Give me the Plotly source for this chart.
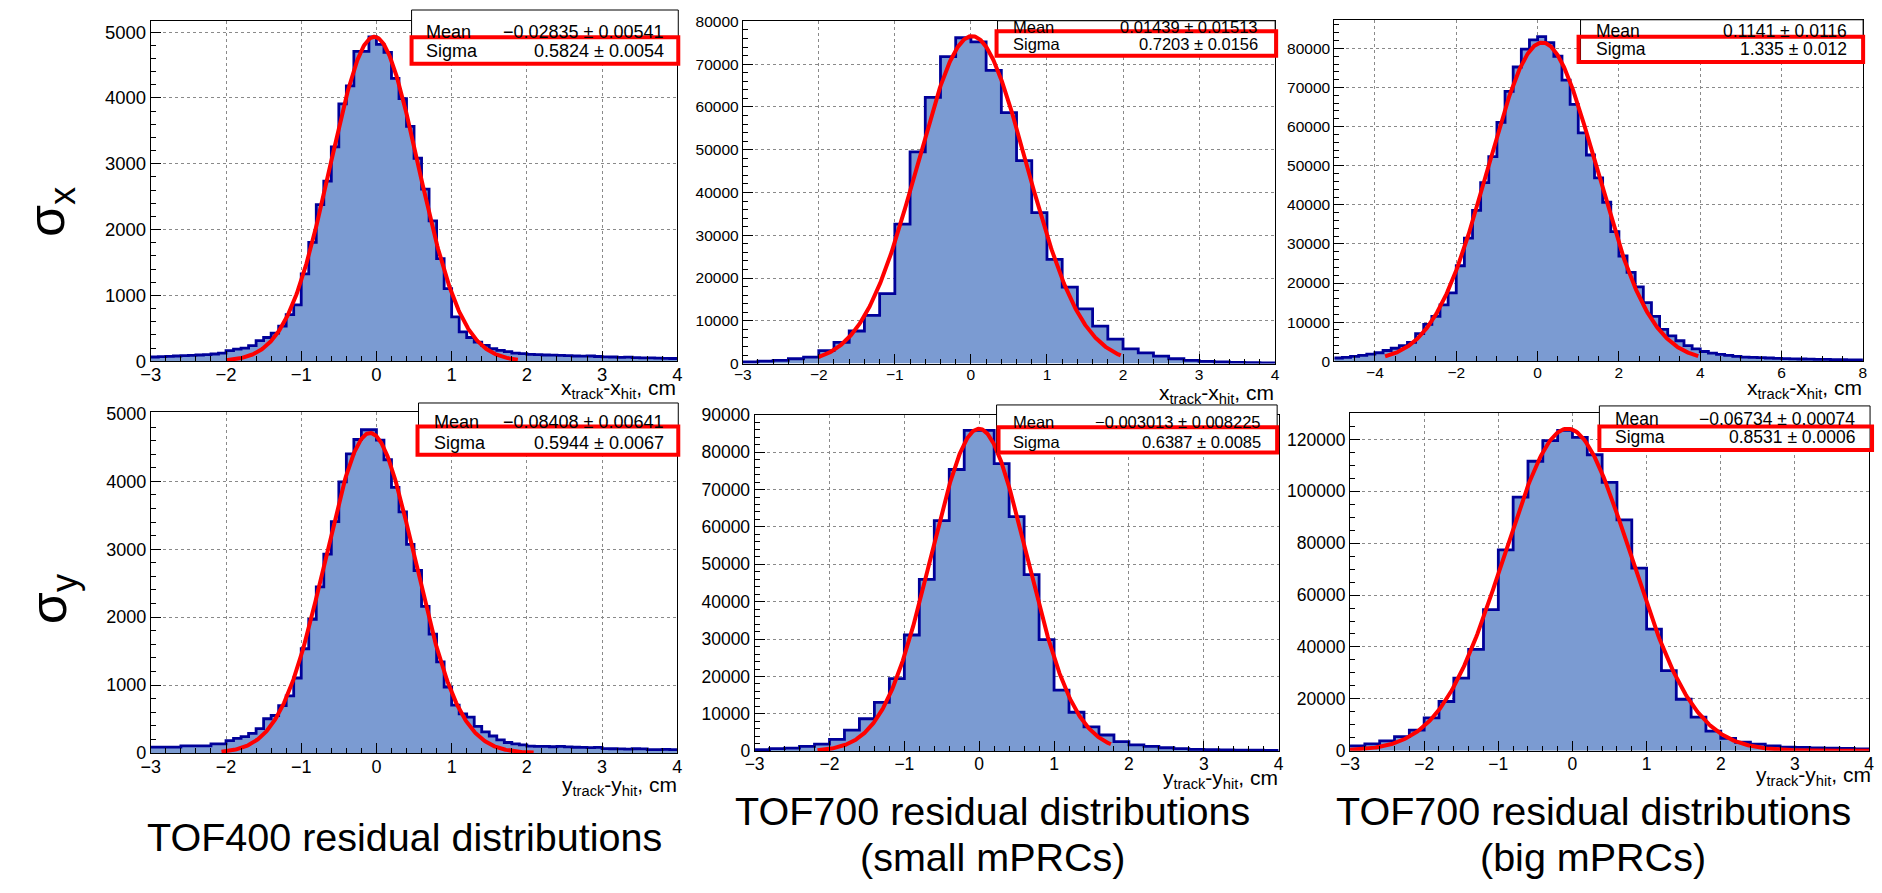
import numpy as np
import plotly.graph_objects as go

W, H = 1882, 893
FONT = "Liberation Sans, Arial, Helvetica, sans-serif"

# ---------------- data ----------------
# TOF400 sigma_x  (bins of 0.1 cm from -3 to 4)
tl_lo, tl_bw = -3.0, 0.1
tl_counts = [65, 70, 75, 80, 85, 90, 95, 100, 110, 125,
             160, 185, 198, 238, 312, 361, 426, 535, 708, 856,
             1327, 1807, 2381, 2737, 3257, 3911, 4183, 4707, 4707, 4930,
             4816, 4693, 4297, 3990, 3569, 3084, 2614, 2133, 1559, 1104,
             673, 445, 361, 290, 240, 190, 165, 145, 125, 115,
             105, 100, 95, 92, 88, 85, 80, 78, 80, 72,
             68, 65, 60, 62, 55, 52, 50, 48, 45, 42]
tl_fit = dict(amp=4930, mean=-0.02835, sigma=0.5824, lo=-2.0, hi=1.88)
tl_stats = ["\u22120.02835 \u00b1 0.00541", "0.5824 \u00b1 0.0054"]

# TOF700 small sigma_x (bins of 0.2 cm)
tm_lo, tm_bw = -3.0, 0.2
tm_counts = [380, 600, 760, 1140, 1520, 3050, 4950, 7620, 11280, 16380,
             32600, 49520, 62250, 71770, 76190, 75200, 68570, 58670, 47470, 35280,
             24380, 17900, 12800, 8760, 5710, 3430, 2510, 1750, 1140, 760,
             530, 380, 300, 230, 150]
tm_fit = dict(amp=76570, mean=0.01439, sigma=0.7203, lo=-2.0, hi=1.97)
tm_stats = ["0.01439 \u00b1 0.01513", "0.7203 \u00b1 0.0156"]

# TOF700 big sigma_x (bins of 0.2 cm from -5 to 8)
tr_lo, tr_bw = -5.0, 0.2
tr_counts = [830, 1000, 1250, 1500, 1830, 2170, 2750, 3330, 4000, 4830,
             7080, 9420, 11500, 14420, 17500, 24420, 31500, 38580, 45670, 52330,
             61080, 69000, 75250, 79830, 82170, 83000, 81500, 78000, 71920, 65670,
             58420, 52750, 46920, 40670, 33170, 26920, 22750, 19000, 15000, 11500,
             8170, 6500, 5250, 4000, 3170, 2500, 2080, 1750, 1500, 1250,
             1080, 1000, 920, 830, 750, 670, 620, 580, 540, 500,
             460, 430, 400, 370, 330]
tr_fit = dict(amp=81500, mean=0.1141, sigma=1.335, lo=-3.75, hi=3.95)
tr_stats = ["0.1141 \u00b1 0.0116", "1.335 \u00b1 0.012"]

# TOF400 sigma_y
bl_lo, bl_bw = -3.0, 0.1
bl_counts = [86, 86, 86, 86, 105, 105, 105, 105, 134, 134,
             182, 216, 240, 288, 360, 504, 552, 696, 840, 1104,
             1535, 1967, 2447, 2927, 3407, 3992, 4405, 4616, 4760, 4760,
             4606, 4318, 3910, 3551, 3071, 2687, 2159, 1751, 1343, 969,
             705, 576, 528, 393, 312, 250, 192, 154, 134, 120,
             100, 96, 96, 92, 96, 90, 84, 82, 80, 82,
             64, 62, 60, 58, 62, 60, 50, 48, 52, 48]
bl_fit = dict(amp=4712, mean=-0.08408, sigma=0.5944, lo=-2.06, hi=2.09)
bl_stats = ["\u22120.08408 \u00b1 0.00641", "0.5944 \u00b1 0.0067"]

# TOF700 small sigma_y
bm_lo, bm_bw = -3.0, 0.2
bm_counts = [435, 700, 870, 1300, 1920, 3220, 5660, 8710, 13070, 19430,
             31100, 46000, 61680, 75360, 85810, 85810, 76930, 62730, 47220, 29880,
             16380, 10450, 6530, 4360, 2610, 1740, 1300, 960, 700, 520,
             435, 380, 320, 280, 240]
bm_fit = dict(amp=86250, mean=-0.003013, sigma=0.6387, lo=-2.16, hi=1.76)
bm_stats = ["\u22120.003013 \u00b1 0.008225", "0.6387 \u00b1 0.0085"]

# TOF700 big sigma_y
br_lo, br_bw = -3.0, 0.2
br_counts = [1880, 2640, 3770, 5400, 7920, 12690, 18970, 28020, 39080, 54410,
             77400, 97760, 111580, 119500, 123510, 120750, 114090, 103410, 88960, 70360,
             46870, 30910, 19850, 12940, 7540, 4770, 3270, 2510, 1880, 1380,
             1260, 1130, 1000, 880, 750]
br_fit = dict(amp=124140, mean=-0.06734, sigma=0.8531, lo=-3.0, hi=4.0)
br_stats = ["\u22120.06734 \u00b1 0.00074", "0.8531 \u00b1 0.0006"]

stat_labels = ["Mean", "Sigma"]
xtitle_x = "x<sub>track</sub>-x<sub>hit</sub>, cm"
xtitle_y = "y<sub>track</sub>-y<sub>hit</sub>, cm"
caption_lines = ["TOF400 residual distributions",
                 "TOF700 residual distributions", "(small mPRCs)",
                 "TOF700 residual distributions", "(big mPRCs)"]

FILL = "#7b9bd2"
NAVY = "#000099"
RED = "#ff0000"


def pxx(x):
    return x / W


def pyy(y):
    return 1 - y / H


fig = go.Figure()
layout = {}
shapes = []
annotations = []

panels = [
    dict(c=tl_counts, lo=tl_lo, bw=tl_bw, fit=tl_fit, st=tl_stats,
         xd=(141, 672), yd=(359.3, 11.7), xr=(-3, 4), yr=(0, 5163),
         xdt=1, xmi=0.2, ydt=1000, ymi=200, tf=18.5,
         box=(404, 0, 673, 55), red=(404, 28, 673, 55),
         tx=(417, 661, 22, 42, 18), title=(xtitle_x, 673, 388)),
    dict(c=tm_counts, lo=tm_lo, bw=tm_bw, fit=tm_fit, st=tm_stats,
         xd=(738, 1275), yd=(361.7, 11.7), xr=(-3, 4), yr=(0, 80000),
         xdt=1, xmi=0.2, ydt=10000, ymi=2000, tf=15.5,
         box=(995, 11, 1275, 47), red=(994, 21.7, 1276, 46.7),
         tx=(1009, 1260, 17, 35, 16.5), title=(xtitle_x, 1276, 393)),
    dict(c=tr_counts, lo=tr_lo, bw=tr_bw, fit=tr_fit, st=tr_stats,
         xd=(1334.6, 1867.8), yd=(359.3, 10), xr=(-5, 8), yr=(0, 87330),
         xdt=2, xmi=0.5, ydt=10000, ymi=2000, tf=15.5,
         box=(1583, 10, 1868, 53.3), red=(1581, 27.3, 1868, 53.3),
         tx=(1597, 1854, 21, 40, 17.5), title=(xtitle_x, 1869, 388)),
    dict(c=bl_counts, lo=bl_lo, bw=bl_bw, fit=bl_fit, st=bl_stats,
         xd=(141, 672), yd=(760, 411.7), xr=(-3, 4), yr=(0, 5014),
         xdt=1, xmi=0.2, ydt=1000, ymi=200, tf=18,
         box=(411, 402, 673, 455), red=(410, 426, 673, 455),
         tx=(425, 661, 421, 443, 18), title=(xtitle_y, 674, 794)),
    dict(c=bm_counts, lo=bm_lo, bw=bm_bw, fit=bm_fit, st=bm_stats,
         xd=(750, 1278.5), yd=(758.3, 414), xr=(-3, 4), yr=(0, 90000),
         xdt=1, xmi=0.2, ydt=10000, ymi=2000, tf=17.5,
         box=(994, 404, 1277, 452.7), red=(996, 426.7, 1277, 452.7),
         tx=(1009, 1263, 421, 442, 16.5), title=(xtitle_y, 1280, 787)),
    dict(c=br_counts, lo=br_lo, bw=br_bw, fit=br_fit, st=br_stats,
         xd=(1350.5, 1874), yd=(757.7, 412.7), xr=(-3, 4), yr=(0, 130000),
         xdt=1, xmi=0.2, ydt=20000, ymi=5000, tf=17.5,
         box=(1602, 405, 1875, 450), red=(1602, 426, 1877, 450),
         tx=(1616, 1862, 418, 437, 17.5), title=(xtitle_y, 1878, 784)),
]

for i, p in enumerate(panels, start=1):
    xa = "x" if i == 1 else f"x{i}"
    ya = "y" if i == 1 else f"y{i}"
    n = len(p["c"])
    edges = p["lo"] + p["bw"] * np.arange(n + 1)
    yv = list(p["c"]) + [p["c"][-1]]
    fig.add_trace(go.Scatter(
        x=edges, y=yv, mode="lines",
        line=dict(shape="hv", color=NAVY, width=2.8),
        fill="tozeroy", fillcolor=FILL, hoverinfo="skip",
        showlegend=False, xaxis=xa, yaxis=ya))
    f = p["fit"]
    xf = np.linspace(f["lo"], f["hi"], 400)
    yf = f["amp"] * np.exp(-0.5 * ((xf - f["mean"]) / f["sigma"]) ** 2)
    fig.add_trace(go.Scatter(
        x=xf, y=yf, mode="lines", line=dict(color=RED, width=4),
        hoverinfo="skip", showlegend=False, xaxis=xa, yaxis=ya))

    common = dict(showline=True, linecolor="black", linewidth=1, mirror=True,
                  ticks="inside", ticklen=10, tickwidth=1, tickcolor="black",
                  showgrid=True, gridcolor="#8a8a8a", griddash="dot", gridwidth=1,
                  zeroline=False, tickformat="d",
                  tickfont=dict(family=FONT, size=p["tf"], color="black"))
    xkey = "xaxis" if i == 1 else f"xaxis{i}"
    ykey = "yaxis" if i == 1 else f"yaxis{i}"
    layout[xkey] = dict(common, domain=[pxx(p["xd"][0]), pxx(p["xd"][1])],
                        range=list(p["xr"]), dtick=p["xdt"], tick0=0,
                        ticklabelstandoff=-3,
                        minor=dict(dtick=p["xmi"], tick0=0, ticks="inside", ticklen=5,
                                   tickcolor="black", showgrid=False),
                        anchor=ya)
    layout[ykey] = dict(common, domain=[pyy(p["yd"][0]), pyy(p["yd"][1])],
                        range=list(p["yr"]), dtick=p["ydt"], tick0=0,
                        minor=dict(dtick=p["ymi"], tick0=0, ticks="inside", ticklen=5,
                                   tickcolor="black", showgrid=False),
                        anchor=xa)

    bx0, by0, bx1, by1 = p["box"]
    shapes.append(dict(type="rect", xref="paper", yref="paper", layer="above",
                       x0=pxx(bx0), x1=pxx(bx1), y0=pyy(by1), y1=pyy(by0),
                       fillcolor="white", line=dict(color="black", width=1)))
    rx0, ry0, rx1, ry1 = p["red"]
    shapes.append(dict(type="rect", xref="paper", yref="paper", layer="above",
                       x0=pxx(rx0), x1=pxx(rx1), y0=pyy(ry1), y1=pyy(ry0),
                       fillcolor="rgba(0,0,0,0)", line=dict(color=RED, width=4)))
    lx, vx, y1, y2, fs = p["tx"]
    for lab, val, yy in zip(stat_labels, p["st"], (y1, y2)):
        annotations.append(dict(xref="paper", yref="paper", x=pxx(lx), y=pyy(yy),
                                text=lab, showarrow=False, xanchor="left", yanchor="middle",
                                font=dict(family=FONT, size=fs, color="black")))
        annotations.append(dict(xref="paper", yref="paper", x=pxx(vx), y=pyy(yy),
                                text=val, showarrow=False, xanchor="right", yanchor="middle",
                                font=dict(family=FONT, size=fs, color="black")))
    t, tx, ty = p["title"]
    annotations.append(dict(xref="paper", yref="paper", x=pxx(tx), y=pyy(ty),
                            text=t, showarrow=False, xanchor="right", yanchor="middle",
                            font=dict(family=FONT, size=21, color="black")))

# big sigma labels
annotations.append(dict(xref="paper", yref="paper", x=pxx(40), y=pyy(207),
                        text="\u03c3<sub>x</sub>", textangle=-90, showarrow=False,
                        xanchor="center", yanchor="middle",
                        font=dict(family=FONT, size=52, color="black")))
annotations.append(dict(xref="paper", yref="paper", x=pxx(41), y=pyy(602),
                        text="\u03c3<sub>y</sub>", textangle=-90, showarrow=False,
                        xanchor="center", yanchor="middle",
                        font=dict(family=FONT, size=52, color="black")))

# captions (one annotation per line)
cap_x = [397, 990, 990, 1596, 1596]
cap_y = [846, 819, 866, 819, 866]
for txt, cx, cy in zip(caption_lines, cap_x, cap_y):
    annotations.append(dict(xref="paper", yref="paper", x=pxx(cx), y=pyy(cy),
                            text=txt, showarrow=False, xanchor="center", yanchor="middle",
                            font=dict(family=FONT, size=39.5, color="black")))

fig.update_layout(width=W, height=H, margin=dict(l=0, r=0, t=0, b=0),
                  paper_bgcolor="white", plot_bgcolor="white",
                  showlegend=False, shapes=shapes, annotations=annotations, **layout)

fig.write_html("out.html", config={"displayModeBar": False},
               post_script="document.body.style.margin='0';document.body.style.padding='0';"
                           "document.body.style.overflow='hidden';")
